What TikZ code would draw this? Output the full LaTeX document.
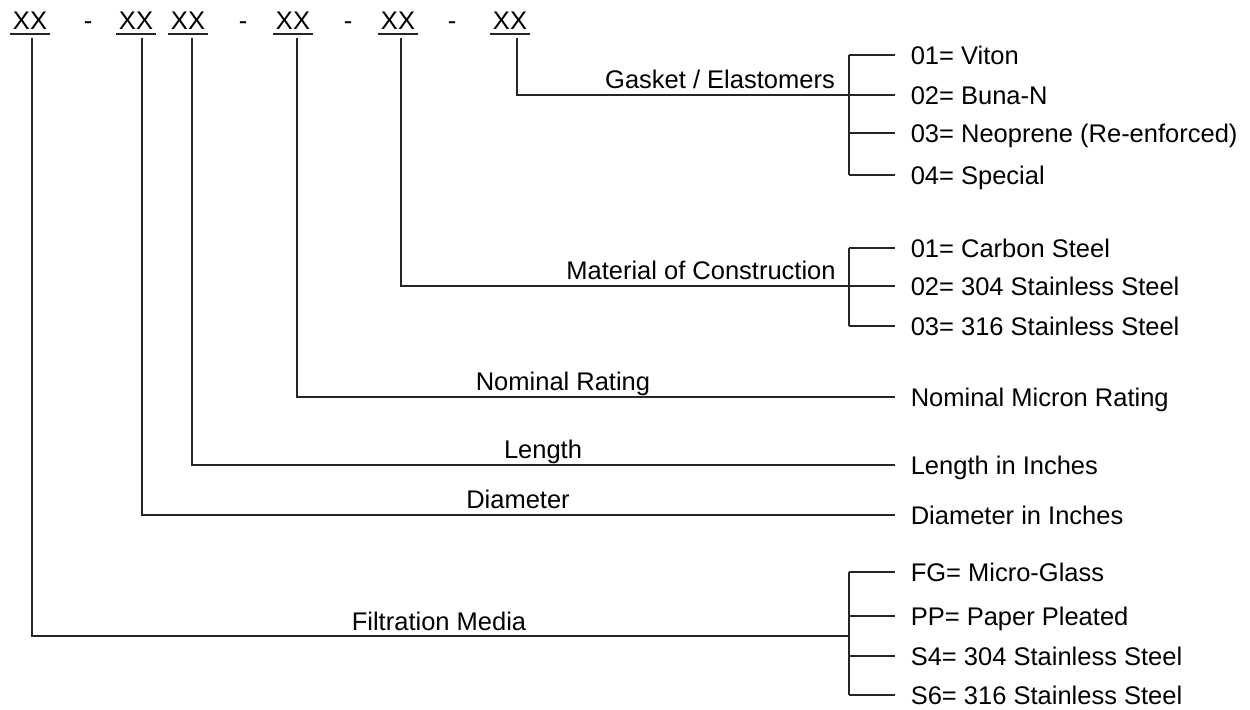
\documentclass[tikz,border=0pt]{standalone}
\usepackage{fontspec}
\setmainfont{Liberation Sans}

\begin{document}
\begin{tikzpicture}[x=0.5pt, y=-0.5pt, line width=0.8pt, draw=black!85,
  font=\fontsize{12.75pt}{15pt}\selectfont,
  code/.style={anchor=base, inner xsep=1pt, inner ysep=2pt},
  opt/.style={anchor=west, inner xsep=7.5pt, inner ysep=0pt, text height=9.1pt, text depth=0pt},
  lbl/.style={anchor=base, inner sep=0pt},
  lead/.style={shorten <=2pt}]

  \useasboundingbox (0,0) rectangle (1250,709);

  % 分支竖线 x 与文字左端 x
  \pgfmathsetmacro{\bx}{849}
  \pgfmathsetmacro{\ox}{895}

  % 编号：XX - XX XX - XX - XX - XX
  \foreach \n/\x in {c1/30, c2/136, c3/188, c4/293, c5/398, c6/510}
    {\node[code] (\n) at (\x,29) {XX};
     \draw (\n.south west) -- (\n.south east);}
  \foreach \n/\x in {d1/88, d2/243, d3/348, d4/452}
    \node[lbl] (\n) at (\x,29) {-};

  % ---- 密封件 ----
  \coordinate (gj) at (\bx,95);
  \foreach \n/\y/\txt in {g1/55/{01= Viton}, g2/95/{02= Buna-N},
      g3/133/{03= Neoprene (Re-enforced)}, g4/175/{04= Special}}
    {\node[opt] (\n) at (\ox,\y) {\txt};
     \draw (gj |- \n.west) -- (\n.west);}
  \draw (gj |- g1.west) -- (gj |- g4.west);
  \draw[lead] ([xshift=3.5pt]c6.south) |- (gj);
  \node[lbl] (tg) at (720,88) {Gasket / Elastomers};

  % ---- 材质 ----
  \coordinate (mj) at (\bx,286);
  \foreach \n/\y/\txt in {m1/248/{01= Carbon Steel}, m2/286/{02= 304 Stainless Steel},
      m3/326/{03= 316 Stainless Steel}}
    {\node[opt] (\n) at (\ox,\y) {\txt};
     \draw (mj |- \n.west) -- (\n.west);}
  \draw (mj |- m1.west) -- (mj |- m3.west);
  \draw[lead] ([xshift=1.5pt]c5.south) |- (mj);
  \node[lbl] (tm) at (701,279) {Material of Construction};

  % ---- 精度 / 长度 / 直径 ----
  \node[opt] (nm) at (\ox,397) {Nominal Micron Rating};
  \draw[lead] ([xshift=2pt]c4.south) |- (nm.west);
  \node[lbl] (tn) at (563,390) {Nominal Rating};

  \node[opt] (li) at (\ox,465) {Length in Inches};
  \draw[lead] ([xshift=2pt]c3.south) |- (li.west);
  \node[lbl] (tl) at (543,458) {Length};

  \node[opt] (di) at (\ox,515) {Diameter in Inches};
  \draw[lead] ([xshift=3pt]c2.south) |- (di.west);
  \node[lbl] (td) at (518,508) {Diameter};

  % ---- 过滤介质 ----
  \coordinate (fj) at (\bx,636);
  \foreach \n/\y/\txt in {f1/572/{FG= Micro-Glass}, f2/616/{PP= Paper Pleated},
      f3/656/{S4= 304 Stainless Steel}, f4/695/{S6= 316 Stainless Steel}}
    {\node[opt] (\n) at (\ox,\y) {\txt};
     \draw (fj |- \n.west) -- (\n.west);}
  \draw (fj |- f1.west) -- (fj |- f4.west);
  \draw[lead] ([xshift=1pt]c1.south) |- (fj);
  \node[lbl] (tf) at (439,630) {Filtration Media};

\end{tikzpicture}
\end{document}
